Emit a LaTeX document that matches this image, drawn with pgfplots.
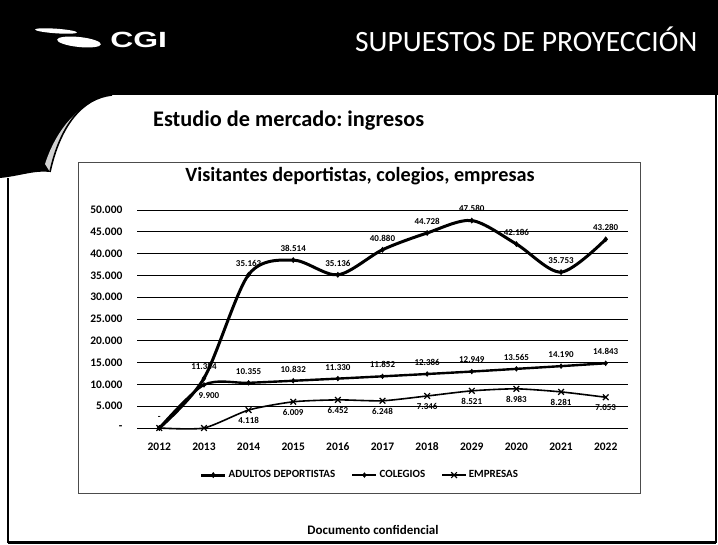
\documentclass[border=0pt]{standalone}
\usepackage{pgfplots}
\pgfplotsset{compat=1.18}
\usepackage{fontspec}
\setmainfont{Carlito}
\newfontfamily\logofont{Liberation Sans}
\frenchspacing

\begin{document}
\begin{tikzpicture}[x=1pt,y=1pt]
\useasboundingbox (0,0) rectangle (718,544);
\fill[white] (0,0) rectangle (718,544);

% header band and left swoosh
\fill[black] (0,544) -- (718,544) -- (718,449) -- (112,449)
  .. controls (82,446) and (60,418) .. (50,372)
  .. controls (35,374) and (20,368) .. (0,366) -- cycle;
\fill[gray!35] (50,372) .. controls (60,418) and (82,446) .. (112,449)
  .. controls (84,444) and (58,420) .. (45,380) -- cycle;
\draw[black, line width=1.6pt] (50,372) .. controls (60,418) and (82,446) .. (112,449);
\draw[black, line width=1.2pt] (8,366) -- (8,2) -- (716,2) -- (716,449);
\draw[black, line width=3pt] (8,2) -- (716,2);

% logo
\fill[white, rotate around={-4:(56,513)}] (56,513) ellipse (21 and 2.3);
\fill[white, rotate around={-6:(79,502)}] (79,502) ellipse (22 and 5);
\node[anchor=base west, white, inner sep=0, xscale=1.45,
  font=\logofont\bfseries\fontsize{22}{22}\selectfont] at (110,496) {CGI};

\node[anchor=base west, white, inner sep=0,
  font=\fontsize{29.5}{29.5}\selectfont] at (355,492) {SUPUESTOS DE PROYECCIÓN};

\node[anchor=base west, inner sep=0,
  font=\bfseries\fontsize{22.3}{22.3}\selectfont] at (153,417) {Estudio de mercado: ingresos};

% chart frame
\draw[gray!60!black, line width=0.8pt] (78,51) rectangle (640,382);
\node[anchor=base, inner sep=0, font=\bfseries\fontsize{20.2}{20.2}\selectfont]
  at (360,362) {Visitantes deportistas, colegios, empresas};

\node[anchor=base, inner sep=0, font=\bfseries\fontsize{13}{13}\selectfont]
  at (373,10) {Documento confidencial};

\begin{axis}[
  at={(137pt,116pt)}, anchor=south west,
  scale only axis, width=491pt, height=218pt,
  xmin=-0.5, xmax=10.5, ymin=0, ymax=50000,
  xtick={0,...,10},
  xticklabels={2012,2013,2014,2015,2016,2017,2018,2029,2020,2021,2022},
  ytick={0,5000,...,50000},
  yticklabels={-,5.000,10.000,15.000,20.000,25.000,30.000,35.000,40.000,45.000,50.000},
  scaled y ticks=false,
  ymajorgrids, grid style={black, line width=1pt},
  axis line style={draw=none},
  major tick length=0pt,
  tick label style={font=\bfseries\fontsize{11.5}{11.5}\selectfont},
  yticklabel style={xshift=-11pt},
  xticklabel style={anchor=base, yshift=-22pt},
  legend style={at={(0.454,-0.216)}, anchor=center, draw=none, fill=none,
    legend columns=-1, font=\bfseries\fontsize{11}{11}\selectfont,
    /tikz/every even column/.append style={column sep=14pt}},
  legend image code/.code={
    \draw[mark repeat=2, mark phase=2, #1] plot coordinates {(0pt,0pt) (12pt,0pt) (24pt,0pt)};},
  clip=false,
  above/.style={draw=none, mark=none, forget plot, nodes near coords,
    point meta=explicit symbolic,
    every node near coord/.append style={anchor=south, yshift=5pt,
      font=\bfseries\fontsize{9}{9}\selectfont}},
  below/.style={draw=none, mark=none, forget plot, nodes near coords,
    point meta=explicit symbolic,
    every node near coord/.append style={anchor=north, yshift=-4pt,
      font=\bfseries\fontsize{9}{9}\selectfont}},
]

% ADULTOS DEPORTISTAS
\addplot[black, line width=3pt, smooth, mark=diamond*, mark size=2.6pt,
  mark options={solid, line width=0.5pt}] coordinates {
  (0,0) (1,11384) (2,35163) (3,38514) (4,35136) (5,40880)
  (6,44728) (7,47580) (8,42186) (9,35753) (10,43280)};
\addlegendentry{ADULTOS DEPORTISTAS}

% COLEGIOS
\addplot[black, line width=2.4pt, smooth, mark=diamond*, mark size=2.4pt,
  mark options={solid, line width=0.5pt}] coordinates {
  (0,0) (1,9900) (2,10355) (3,10832) (4,11330) (5,11852)
  (6,12386) (7,12949) (8,13565) (9,14190) (10,14843)};
\addlegendentry{COLEGIOS}

% EMPRESAS
\addplot[black, line width=1.6pt, smooth, tension=0.4, mark=x, mark size=4pt,
  mark options={solid, line width=1.2pt}] coordinates {
  (0,0) (1,0) (2,4118) (3,6009) (4,6452) (5,6248)
  (6,7346) (7,8521) (8,8983) (9,8281) (10,7053)};
\addlegendentry{EMPRESAS}

% data labels
\addplot[above] coordinates {
  (0,0)[-] (1,11384)[11.384] (2,35163)[35.163] (3,38514)[38.514]
  (4,35136)[35.136] (5,40880)[40.880] (6,44728)[44.728] (7,47580)[47.580]
  (8,42186)[42.186] (9,35753)[35.753] (10,43280)[43.280]};
\addplot[above] coordinates {
  (2,10355)[10.355] (3,10832)[10.832] (4,11330)[11.330] (5,11852)[11.852]
  (6,12386)[12.386] (7,12949)[12.949] (8,13565)[13.565] (9,14190)[14.190]
  (10,14843)[14.843]};
\addplot[below, every node near coord/.append style={xshift=5pt}] coordinates {
  (1,9900)[9.900]};
\addplot[below] coordinates {
  (2,4118)[4.118] (3,6009)[6.009] (4,6452)[6.452] (5,6248)[6.248]
  (6,7346)[7.346] (7,8521)[8.521] (8,8983)[8.983] (9,8281)[8.281]
  (10,7053)[7.053]};
\end{axis}
\end{tikzpicture}
\end{document}
